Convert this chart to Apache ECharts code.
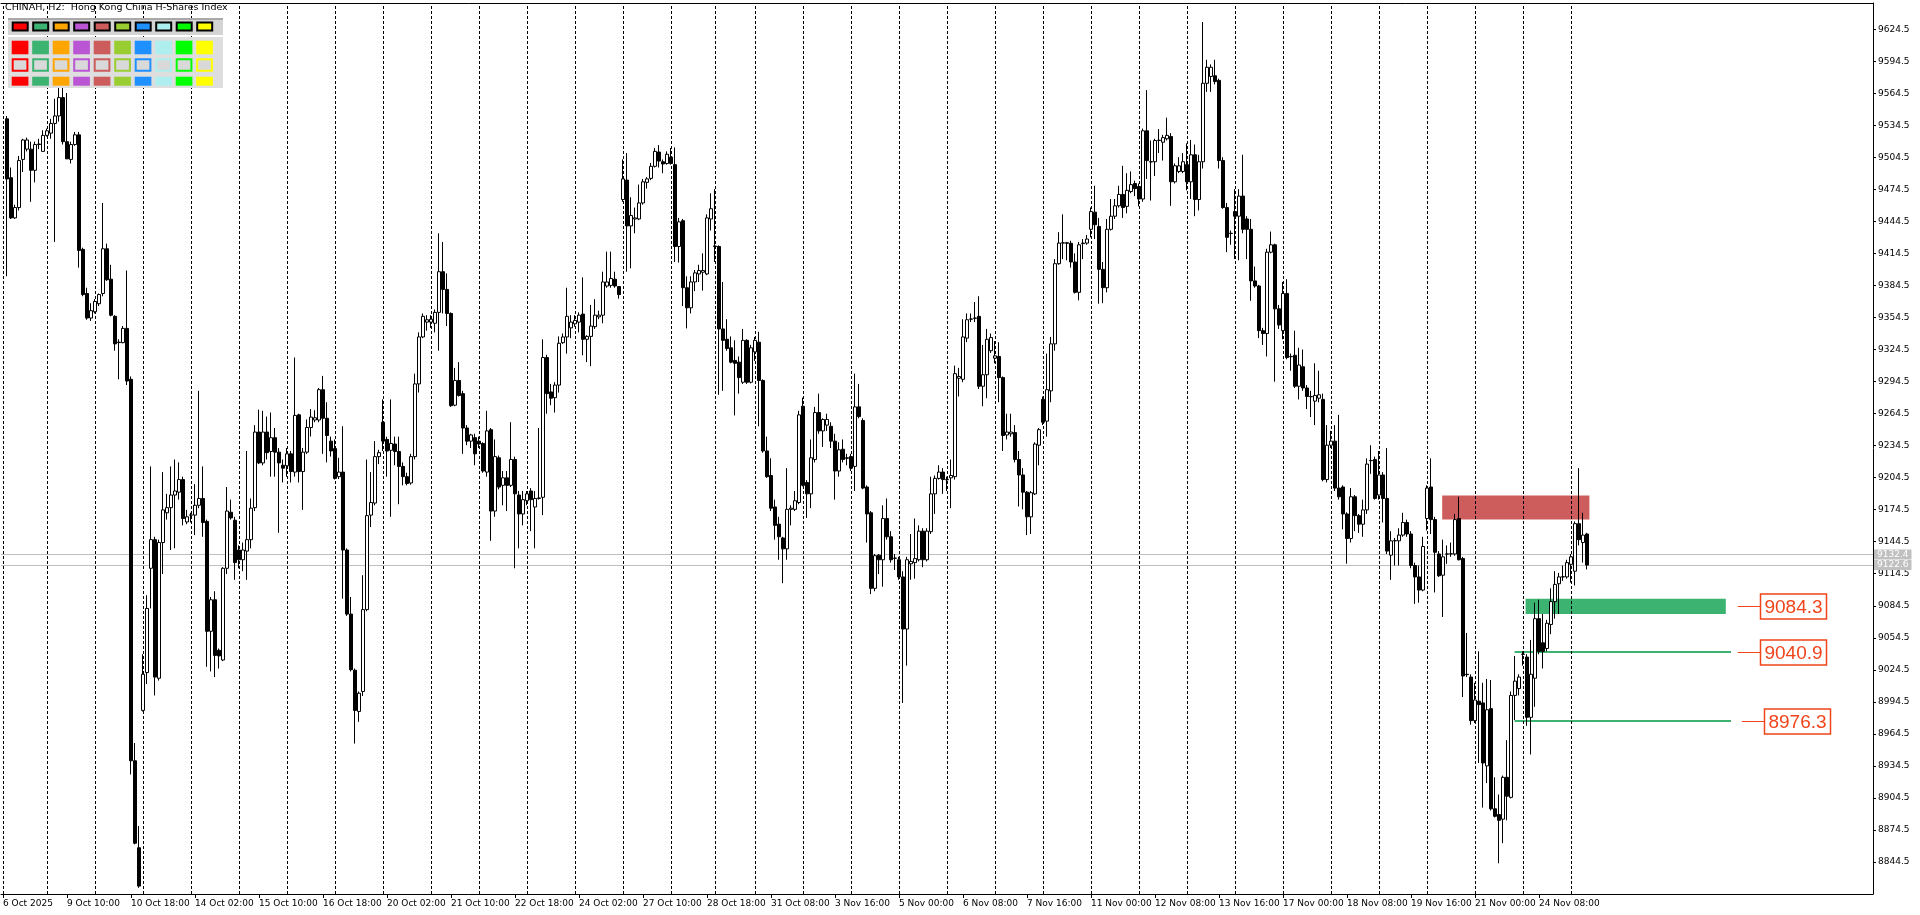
<!DOCTYPE html>
<html><head><meta charset="utf-8">
<script src="https://cdn.jsdelivr.net/npm/echarts@6/dist/echarts.min.js"></script>
<style>html,body{margin:0;padding:0;background:#fff;}#c{width:1920px;height:915px;}</style>
</head><body><div id="c"></div>
<script>
// ---- data (bars 1..396; bar 0 is empty) ----
const timeLabels = ["6 Oct 2025","9 Oct 10:00","10 Oct 18:00","14 Oct 02:00","15 Oct 10:00","16 Oct 18:00","20 Oct 02:00","21 Oct 10:00","22 Oct 18:00","24 Oct 02:00","27 Oct 10:00","28 Oct 18:00","31 Oct 08:00","3 Nov 16:00","5 Nov 00:00","6 Nov 08:00","7 Nov 16:00","11 Nov 00:00","12 Nov 08:00","13 Nov 16:00","17 Nov 00:00","18 Nov 08:00","19 Nov 16:00","21 Nov 00:00","24 Nov 08:00"];
const barsPerLabel = 16;
const totalSlots = 468;
const daySeparators = [0,11,23,35,47,59,71,83,95,107,119,131,143,155,167,178,188,200,212,224,236,248,260,272,284,296,308,320,332,344,356,368,380,392];

const opens = [
9540.6,9485.4,9447.8,9457.5,9502.6,9512.2,9512.2,9492.4,9516.5,9510.1,
9525.1,9527.2,9536.3,9543.3,9560.5,9519.2,9502.6,9516.5,9525.6,9418.3,
9377.0,9354.0,9359.9,9367.4,9377.0,9418.9,9390.4,9355.6,9331.4,9330.9,
9344.3,9296.6,8939.3,8857.8,8986.5,9021.9,9119.6,9146.4,9016.6,9143.7,
9171.6,9176.4,9188.2,9190.9,9202.7,9163.0,9169.4,9169.4,9178.6,9185.0,
9163.5,9060.6,9090.1,9042.8,9033.7,9119.6,9172.1,9164.6,9136.7,9127.6,
9135.7,9146.4,9176.4,9247.2,9218.3,9247.2,9229.0,9241.9,9228.4,9216.1,
9215.6,9226.8,9209.7,9263.3,9210.2,9228.4,9251.5,9258.5,9258.5,9286.9,
9260.1,9238.7,9231.7,9205.4,9209.7,9136.7,9076.7,9024.1,8985.5,9004.2,
9080.9,9169.4,9180.7,9224.2,9256.4,9240.3,9230.1,9236.0,9229.0,9215.0,
9205.4,9199.5,9224.2,9292.3,9336.3,9350.2,9350.2,9349.1,9359.3,9397.4,
9380.8,9358.3,9272.4,9295.5,9283.2,9251.0,9238.7,9241.9,9238.7,9236.5,
9209.7,9249.4,9173.2,9223.1,9197.3,9204.3,9197.3,9221.5,9188.2,9170.5,9182.9,
9192.0,9177.0,9185.0,9186.1,9317.0,9284.8,9279.4,9291.2,9330.9,
9336.3,9344.8,9348.6,9350.2,9357.7,9334.1,9336.8,9345.9,9355.1,9356.7,
9384.0,9384.6,9390.4,9383.5,9465.0,9483.2,9440.3,9446.8,9446.8,9461.8,
9481.1,9484.8,9496.1,9509.5,9500.4,9498.8,9504.7,9497.7,9421.0,9445.2,
9382.4,9363.6,9387.8,9395.3,9396.9,9395.3,9446.8,9421.5,9421.0,9343.8,
9334.1,9326.1,9314.3,9312.7,9293.9,9333.1,9293.9,9322.3,9331.4,9295.5,
9229.5,9206.5,9177.0,9160.9,9148.0,9137.8,9174.8,9174.8,9181.2,9271.4,
9200.0,9189.3,9221.5,9265.5,9248.3,9253.7,9252.6,9238.7,9210.7,9231.1,
9223.1,9224.2,9215.0,9270.8,9258.0,9195.7,9171.6,9100.8,9131.9,9127.6,
9166.2,9149.1,9129.2,9127.6,9111.5,9062.7,9123.8,9124.9,9127.6,9154.4,
9127.6,9153.9,9189.3,9203.8,9209.7,9202.7,9204.3,9205.4,9297.6,9296.6,
9335.2,9352.9,9354.0,9355.6,9290.1,9300.9,9323.4,9316.4,9318.0,9298.2,
9244.5,9245.6,9246.7,9221.5,9207.0,9190.9,9167.8,9189.3,9234.9,9277.8,
9257.4,9285.8,9329.8,9404.9,9424.2,9424.5,9424.0,9406.5,9378.1,9423.7,
9424.2,9437.1,9453.2,9439.8,9399.6,9382.4,9437.1,9449.4,9459.1,9469.8,
9458.6,9472.5,9480.0,9477.3,9465.5,9529.4,9500.4,9500.4,9520.3,9518.7,
9521.9,9524.0,9481.6,9491.3,9491.3,9497.7,9481.6,9506.9,9465.0,9500.4,
9573.9,9580.3,9580.9,9576.6,9501.5,9457.5,9433.4,9453.7,9449.4,9468.2,
9446.8,9437.1,9388.8,9384.0,9342.2,9339.5,9415.7,9422.6,9362.6,9342.2,
9377.0,9318.0,9319.1,9290.1,9308.4,9288.5,9280.5,9276.2,9278.9,9277.8,
9202.7,9234.9,9238.7,9194.7,9195.7,9170.5,9147.5,9186.6,9168.9,9160.9,
9174.3,9220.4,9221.5,9188.2,9207.0,9185.0,9131.9,9145.3,9145.3,9150.7,
9162.5,9151.7,9122.2,9111.5,9099.2,9166.2,9195.7,9165.2,9133.0,9113.1,
9132.9,9133.0,9133.0,9166.2,9128.7,9020.3,9017.7,8976.9,8995.1,8993.5,
8934.5,8988.1,8894.3,8888.9,8884.6,8923.8,8905.0,9000.5,9006.9,9039.1,
9036.4,8980.0,9016.6,9072.4,9049.8,9044.5,9067.0,9088.4,9105.1,9111.5,
9111.5,9123.3,9116.9,9161.4,9143.7,9151.7];

const highs = [
9543.3,9495.0,9460.2,9505.8,9521.9,9523.0,9519.2,9519.2,9521.9,9529.9,
9531.5,9540.6,9559.4,9575.5,9575.5,9564.8,9519.2,9528.3,9528.3,9419.9,
9382.4,9367.9,9371.7,9377.0,9461.8,9423.7,9403.9,9356.7,9334.1,9346.5,
9398.5,9299.3,8956.0,8878.2,9039.1,9094.4,9215.0,9149.1,9146.4,9209.7,
9189.3,9215.0,9221.5,9218.8,9205.4,9174.3,9171.6,9198.4,9285.8,9215.0,
9165.2,9092.7,9098.1,9044.5,9120.6,9195.7,9183.9,9167.8,9141.0,9143.7,
9229.5,9185.0,9253.7,9268.2,9267.1,9261.7,9265.5,9251.0,9232.2,9221.5,
9232.2,9229.5,9317.0,9264.4,9232.2,9259.0,9268.7,9267.6,9288.5,9299.8,
9275.1,9242.9,9240.3,9223.1,9252.6,9138.3,9092.7,9025.7,9004.2,9113.1,
9221.5,9209.7,9238.7,9230.6,9277.8,9242.9,9277.8,9242.9,9242.9,9218.8,
9209.1,9226.8,9301.9,9340.6,9358.3,9356.7,9356.7,9362.0,9433.4,9425.3,
9395.8,9359.3,9307.3,9312.7,9285.8,9253.7,9245.6,9245.6,9242.9,9237.6,
9267.1,9251.0,9240.3,9225.2,9210.7,9210.7,9256.4,9224.2,9192.0,9192.0,9192.0,
9194.7,9192.0,9251.0,9334.1,9319.6,9292.3,9293.9,9336.8,9339.5,
9382.4,9356.7,9356.7,9359.3,9392.1,9337.9,9366.3,9371.7,9360.9,9397.4,
9416.2,9416.2,9397.4,9384.0,9502.6,9508.5,9467.1,9457.5,9479.0,9484.3,
9485.9,9499.3,9513.3,9516.0,9502.6,9510.1,9513.3,9513.8,9447.8,9446.8,
9393.1,9393.1,9399.0,9403.9,9414.6,9451.1,9470.9,9474.7,9422.1,9387.8,
9352.9,9336.8,9333.1,9318.0,9343.8,9334.1,9328.8,9336.3,9341.1,9296.6,
9242.9,9222.6,9183.9,9167.8,9149.1,9213.4,9178.6,9192.0,9267.1,9279.4,
9202.2,9240.3,9270.8,9283.2,9260.1,9264.4,9256.4,9245.6,9237.6,9240.3,
9226.8,9226.8,9301.9,9292.3,9260.1,9197.3,9173.2,9133.0,9133.0,9178.6,
9185.0,9154.4,9133.0,9130.3,9116.9,9130.3,9151.7,9166.2,9159.8,9157.1,
9157.1,9205.4,9206.5,9216.1,9213.4,9205.4,9221.5,9309.4,9307.3,9352.9,
9358.3,9358.3,9369.0,9374.4,9328.8,9343.8,9339.5,9332.5,9331.4,9299.3,
9264.4,9264.4,9253.7,9229.5,9213.4,9192.0,9192.0,9237.6,9251.0,9280.5,
9320.7,9336.3,9409.2,9434.4,9451.1,9425.3,9426.4,9414.6,9425.3,9428.0,
9431.8,9457.5,9477.9,9447.8,9406.5,9446.8,9465.5,9465.5,9477.9,9496.6,
9489.7,9491.3,9482.7,9480.0,9531.5,9567.5,9520.3,9521.9,9531.0,9525.6,
9541.7,9527.2,9498.8,9504.7,9508.5,9517.6,9520.8,9516.5,9506.9,9631.3,
9595.9,9591.6,9595.9,9578.2,9504.7,9461.8,9436.0,9474.7,9474.7,9506.9,
9449.4,9446.8,9402.2,9385.1,9344.8,9418.9,9435.0,9423.7,9366.3,9387.8,
9390.4,9320.7,9342.2,9326.1,9324.5,9291.2,9285.8,9311.6,9304.6,9283.2,
9253.7,9248.3,9253.7,9263.3,9197.3,9172.1,9194.7,9188.2,9170.5,9183.9,
9222.6,9234.9,9224.2,9229.5,9209.7,9232.2,9154.4,9148.0,9157.1,9171.6,
9165.2,9154.4,9124.9,9122.2,9149.1,9197.3,9222.6,9167.8,9135.7,9146.4,
9141.0,9143.7,9170.5,9186.6,9130.3,9059.0,9020.3,9012.3,9041.8,9012.3,
9016.0,9014.9,8923.8,8907.7,8925.4,8958.6,9004.2,9037.5,9020.3,9041.8,
9039.1,9052.5,9087.4,9090.1,9076.7,9071.3,9100.8,9116.9,9115.3,9122.2,
9127.6,9133.0,9163.5,9213.4,9171.6,9152.8];

const lows = [
9393.1,9446.8,9446.8,9454.8,9490.8,9510.1,9462.9,9481.1,9512.2,9510.0,
9524.0,9521.9,9425.3,9538.0,9516.5,9503.0,9498.8,9515.4,9401.2,9374.4,
9352.4,9351.3,9358.3,9365.2,9374.4,9388.8,9355.6,9323.4,9296.6,9330.4,
9291.2,8926.5,8861.0,8820.3,8985.5,9011.2,9082.0,9000.5,9014.4,9114.2,
9165.2,9136.7,9138.3,9183.9,9159.8,9160.9,9162.5,9150.7,9175.9,9149.1,
9027.3,9023.0,9017.7,9025.7,9032.7,9114.2,9165.2,9108.8,9119.6,9116.9,
9108.8,9138.3,9173.2,9217.2,9216.1,9221.5,9205.4,9205.4,9152.8,9200.0,
9205.4,9200.0,9205.4,9200.0,9174.3,9226.8,9243.0,9256.4,9256.4,9226.8,
9218.8,9224.2,9202.7,9203.2,9091.1,9075.0,9023.0,8955.4,8975.8,9000.0,
9079.3,9158.2,9178.6,9217.2,9229.5,9205.4,9167.8,9216.1,9179.6,9197.3,
9197.3,9197.9,9221.5,9284.2,9335.2,9342.2,9344.8,9340.6,9323.4,9358.3,
9346.5,9270.8,9271.4,9280.5,9226.8,9234.9,9232.2,9216.1,9232.2,9209.1,
9205.4,9145.3,9167.8,9193.6,9178.6,9173.2,9195.7,9119.6,9138.3,9159.8,9178.6,
9154.4,9138.3,9183.9,9169.4,9264.4,9272.4,9265.5,9284.2,9329.8,
9320.7,9335.2,9345.9,9340.6,9319.1,9312.7,9308.9,9343.8,9352.9,9349.1,
9382.4,9382.4,9382.4,9372.2,9462.9,9397.4,9400.6,9433.4,9445.7,9460.2,
9475.2,9483.2,9495.0,9495.0,9489.7,9497.7,9497.7,9406.5,9406.0,9365.2,
9344.3,9358.3,9379.2,9387.8,9379.7,9394.2,9436.0,9406.5,9282.1,9285.8,
9323.4,9311.6,9262.8,9283.2,9292.3,9292.3,9292.8,9313.8,9252.6,9227.9,
9204.3,9173.2,9146.4,9127.6,9105.6,9127.6,9159.8,9173.2,9179.6,9196.3,
9166.8,9175.9,9218.8,9245.6,9233.3,9248.3,9232.2,9183.9,9205.4,9218.8,
9216.1,9210.7,9192.0,9260.1,9193.6,9143.7,9095.4,9098.1,9114.2,9102.4,
9146.4,9124.9,9118.0,9108.8,8993.5,9028.4,9108.8,9109.9,9126.0,9120.6,
9126.0,9151.7,9170.5,9202.7,9189.3,9192.0,9175.9,9202.7,9280.5,9293.9,
9331.4,9350.2,9350.2,9287.5,9271.4,9278.9,9321.3,9311.6,9275.1,9229.5,
9240.3,9242.9,9218.8,9177.5,9174.8,9150.7,9151.7,9188.2,9216.1,9253.7,
9242.9,9275.1,9323.4,9403.9,9409.2,9408.1,9401.2,9377.0,9370.6,9409.2,
9422.6,9429.6,9428.0,9367.4,9367.9,9378.1,9436.0,9446.8,9457.5,9447.8,
9452.1,9470.9,9468.2,9458.6,9462.9,9484.3,9464.0,9487.0,9508.5,9501.5,
9520.3,9459.1,9480.0,9489.7,9489.7,9473.6,9465.5,9449.4,9454.8,9494.0,
9565.9,9565.9,9572.8,9494.0,9456.4,9415.7,9422.6,9409.2,9408.1,9433.4,
9409.2,9370.1,9382.4,9335.2,9328.8,9318.0,9414.6,9294.4,9343.8,9334.1,
9315.4,9304.6,9288.5,9277.8,9285.8,9268.7,9261.2,9253.7,9275.1,9201.1,
9200.0,9232.2,9192.0,9183.9,9156.1,9123.9,9143.7,9154.4,9152.8,9149.1,
9170.5,9208.1,9183.9,9183.9,9162.5,9133.0,9108.8,9122.2,9122.2,9149.1,
9149.1,9119.6,9086.3,9087.4,9098.1,9155.0,9151.7,9097.0,9111.5,9074.0,
9123.8,9130.3,9131.4,9127.0,8998.9,9017.7,8973.1,8974.7,8937.2,8895.4,
8918.4,8892.7,8886.2,8843.3,8862.1,8883.5,8904.0,8977.4,9000.5,9028.4,
8972.0,8945.2,8989.8,9039.1,9025.7,9041.8,9057.9,9072.4,9076.7,9107.8,
9109.9,9106.2,9103.5,9141.0,9124.9,9118.5];

const closes = [
9484.3,9447.8,9457.5,9501.5,9520.8,9520.8,9492.4,9516.5,9517.0,9525.1,
9529.4,9536.3,9543.3,9560.5,9519.2,9503.1,9516.5,9525.6,9417.3,9376.0,
9354.0,9360.9,9369.5,9376.0,9418.9,9389.9,9356.7,9329.8,9331.0,9344.3,
9295.0,8939.3,8862.1,8821.9,9020.3,9082.0,9146.4,9017.7,9143.7,9174.3,
9176.4,9188.2,9192.0,9202.7,9166.2,9167.8,9169.5,9178.6,9185.0,9162.5,
9060.6,9090.1,9038.0,9037.5,9119.6,9173.2,9166.8,9124.9,9127.6,9136.7,
9146.4,9175.9,9247.2,9218.3,9247.2,9227.9,9241.9,9228.4,9218.3,9213.4,
9226.8,9210.2,9262.8,9210.2,9228.4,9251.5,9261.2,9260.6,9286.9,9260.1,
9244.0,9229.5,9203.8,9209.7,9136.7,9076.7,9024.6,8986.5,9002.6,9080.9,
9168.9,9181.2,9224.2,9227.9,9238.7,9229.5,9236.5,9229.0,9215.0,9205.4,
9199.0,9224.2,9292.3,9336.3,9355.6,9352.4,9352.9,9359.3,9397.4,9380.8,
9358.3,9271.9,9295.5,9281.5,9251.0,9238.7,9244.5,9226.8,9236.0,9210.7,
9248.3,9173.2,9224.2,9195.7,9204.3,9197.3,9221.5,9189.3,9170.5,9183.9,9189.3,
9183.9,9185.0,9185.5,9317.0,9283.2,9278.9,9291.2,9330.4,9336.3,
9355.6,9350.2,9351.8,9356.7,9334.1,9336.8,9346.5,9356.7,9356.7,9387.8,
9387.8,9391.0,9384.0,9376.0,9484.3,9440.3,9450.0,9447.8,9461.8,9481.6,
9484.3,9496.1,9510.1,9501.0,9498.3,9507.4,9498.8,9421.0,9444.1,9382.4,
9363.6,9387.8,9396.3,9398.5,9398.5,9447.8,9456.4,9421.0,9343.8,9333.1,
9325.5,9312.7,9311.6,9298.2,9333.1,9293.9,9326.1,9333.1,9295.5,9229.5,
9205.4,9175.9,9159.8,9149.1,9137.8,9174.8,9175.9,9182.9,9263.3,9197.3,
9189.3,9223.1,9265.5,9248.3,9259.0,9259.0,9238.7,9210.7,9230.6,9221.5,
9222.6,9213.4,9270.8,9261.7,9194.7,9170.5,9100.8,9131.4,9127.6,9166.2,
9149.1,9127.6,9129.0,9111.5,9062.7,9127.6,9126.0,9128.7,9154.4,9127.6,
9154.4,9189.3,9203.8,9209.7,9202.7,9202.5,9206.5,9301.9,9299.3,9336.3,
9352.4,9353.1,9353.8,9290.1,9300.9,9334.1,9335.7,9318.6,9298.2,9244.0,
9247.2,9247.2,9221.5,9207.0,9190.9,9167.8,9190.4,9236.0,9249.4,9256.4,
9286.9,9329.8,9404.9,9424.2,9424.5,9424.0,9406.5,9378.1,9422.6,9424.2,
9428.0,9453.7,9441.4,9399.6,9382.4,9437.1,9449.4,9459.1,9469.8,9457.5,
9473.6,9479.0,9475.2,9465.5,9529.4,9501.5,9500.2,9520.3,9520.6,9523.0,
9525.1,9481.6,9496.6,9496.6,9500.4,9481.6,9506.9,9465.0,9500.4,9573.9,
9588.9,9588.9,9575.5,9501.5,9457.5,9429.6,9433.2,9449.4,9468.2,9437.1,
9437.1,9388.8,9384.0,9342.2,9339.5,9415.7,9422.6,9362.6,9347.5,9377.0,
9317.0,9317.8,9290.1,9310.0,9288.5,9280.5,9280.3,9281.5,9282.1,9202.7,
9234.9,9238.7,9194.7,9186.6,9170.5,9147.5,9186.6,9168.9,9160.9,9174.3,
9217.2,9220.6,9185.0,9207.0,9185.0,9135.7,9145.3,9145.5,9150.7,9162.5,
9151.7,9122.2,9111.5,9099.2,9140.0,9194.7,9165.2,9134.6,9112.6,9130.3,
9133.0,9133.2,9165.2,9127.6,9018.7,9020.0,8976.9,8996.2,8991.9,8937.2,
8987.1,8894.3,8887.3,8883.5,8923.8,8906.1,9000.5,9013.9,9017.7,9039.0,
8980.0,9020.3,9072.4,9041.8,9041.8,9068.1,9088.4,9104.5,9111.5,9111.7,
9124.9,9130.3,9161.4,9146.4,9150.7,9122.6];

const bidAsk = [9132.4, 9122.6];
const resistanceZone = [359.8, 396.6, 9165.2, 9187.7];   // from bar, to bar, low, high
const supportZone = [380.65, 430.7, 9076.7, 9091.1];
const supportLines = [9040.9, 8976.3];
const supportLineBars = [377.9, 432];
const levelLabels = [9084.3, 9040.9, 8976.3];
const swatchColors = ['#FF0000','#3CB371','#FFA500','#BA55D3','#CD5C5C','#9ACD32','#1E90FF','#AFEEEE','#00FF00','#FFFF00'];
const titleText = 'CHINAH, H2:  Hong Kong China H-Shares Index';

// ---- build ----
const FONT = 'DejaVu Sans';
const LABEL_RED = '#F0441A';
const categories = Array.from({length: totalSlots}, (_, i) => String(i));
const candleData = [ '-' ];
for (let i = 0; i < opens.length; i++) candleData.push([opens[i], closes[i], lows[i], highs[i]]);
const isLabelIdx = i => i % barsPerLabel === 0 && (i / barsPerLabel) < timeLabels.length;

const annotations = [
  {kind:'zone', from:resistanceZone[0], to:resistanceZone[1], low:resistanceZone[2], high:resistanceZone[3], color:'#CD5C5C'},
  {kind:'zone', from:supportZone[0], to:supportZone[1], low:supportZone[2], high:supportZone[3], color:'#3CB371'},
  ...supportLines.map(p => ({kind:'line', from:supportLineBars[0], to:supportLineBars[1], price:p, color:'#3CB371'})),
  ...levelLabels.map((p, k) => ({kind:'label', price:p, lineFrom: k < 2 ? 433.7 : 434.7, boxFrom: k < 2 ? 439.25 : 440.25, boxBars: 16.6}))
];

function renderAnnot(params, api) {
  const a = annotations[params.dataIndex];
  const bw = api.size([1, 0])[0];
  const x0 = api.coord([0, 9000])[0];
  const xp = b => x0 + b * bw;
  const yp = p => api.coord([0, p])[1];
  if (a.kind === 'zone') {
    const yt = yp(a.high), yb = yp(a.low);
    return {type:'rect', shape:{x:xp(a.from), y:yt, width:xp(a.to)-xp(a.from), height:yb-yt}, style:{fill:a.color}};
  }
  if (a.kind === 'line') {
    const y = Math.round(yp(a.price));
    return {type:'line', shape:{x1:xp(a.from), y1:y, x2:xp(a.to), y2:y}, style:{stroke:a.color, lineWidth:2}};
  }
  const y = Math.round(yp(a.price)) + 0.5;
  const bx = Math.round(xp(a.boxFrom)) + 0.5, w = Math.round(a.boxBars * bw);
  return {type:'group', children:[
    {type:'line', shape:{x1:xp(a.lineFrom), y1:y, x2:bx, y2:y}, style:{stroke:LABEL_RED, lineWidth:1}},
    {type:'rect', shape:{x:bx, y:y-12.5, width:w, height:25}, style:{fill:'#fff', stroke:LABEL_RED, lineWidth:1.5}},
    {type:'text', style:{text:a.price.toFixed(1), x:bx + w/2, y:y + 1, align:'center', verticalAlign:'middle', fill:LABEL_RED, font:'19px "Liberation Sans"'}}
  ]};
}

const graphics = [
  {type:'text', left:5, top:3, z:100, style:{text:titleText, fill:'#000', font:'9.5px "' + FONT + '"'}},
  {type:'rect', z:100, shape:{x:8, y:18, width:215, height:17}, style:{fill:'#d4d4d4'}},
  {type:'rect', z:100, shape:{x:8, y:18, width:215, height:2}, style:{fill:'#a8a8a8'}},
  {type:'rect', z:100, shape:{x:8, y:37, width:215, height:51}, style:{fill:'#dedede'}}
];
swatchColors.forEach((c, k) => {
  const x = 11.7 + 20.5 * k;
  graphics.push({type:'rect', z:101, shape:{x:x+1, y:22.5, width:15, height:8}, style:{fill:c, stroke:'#000', lineWidth:2}});
  graphics.push({type:'rect', z:101, shape:{x:x, y:40.7, width:16.7, height:13.6}, style:{fill:c}});
  graphics.push({type:'rect', z:101, shape:{x:x+1, y:59.3, width:14.7, height:11.4}, style:{fill:'#d9d9d9', stroke:c, lineWidth:2}});
  graphics.push({type:'rect', z:101, shape:{x:x, y:76.7, width:16.7, height:9}, style:{fill:c}});
});

const markData = [
  ...daySeparators.map(i => ({xAxis: i, lineStyle:{color:'#000', type:[3,2], width:1}, label:{show:false}})),
  ...bidAsk.map(v => ({yAxis: v, lineStyle:{color:'#c0c0c0', type:'solid', width:1},
     label:{show:true, position:'end', distance:1, formatter: v.toFixed(1), color:'#fff', backgroundColor:'#c0c0c0',
            fontSize:9, fontFamily:FONT, padding:[1,3,0,3]}}))
];

const chart = echarts.init(document.getElementById('c'), null, {renderer:'canvas'});
chart.setOption({
  animation: false,
  backgroundColor: '#fff',
  grid: {left: 1, right: 47, top: 3, bottom: 21},
  xAxis: [{
    type:'category', data: categories, boundaryGap: true,
    axisLine:{show:true, lineStyle:{color:'#000', width:1}},
    axisTick:{show:true, interval:(i) => isLabelIdx(i), alignWithLabel:true, length:4, lineStyle:{color:'#000'}},
    axisLabel:{show:true, interval:(i) => isLabelIdx(i), formatter:(v, i) => timeLabels[Number(v)/barsPerLabel] || '',
               align:'left', margin:5, fontSize:9, fontFamily:FONT, color:'#000'},
    splitLine:{show:false}
  },{
    type:'category', data: categories, position:'top', boundaryGap:true,
    axisLine:{show:true, lineStyle:{color:'#000', width:1}}, axisTick:{show:false}, axisLabel:{show:false}, splitLine:{show:false}
  }],
  yAxis: {
    type:'value', position:'right', min: 8814.5, max: 9649.1, interval: 30, scale: true,
    axisLine:{show:true, lineStyle:{color:'#000', width:1}},
    axisTick:{show:true, length:3, lineStyle:{color:'#000'}},
    axisLabel:{show:true, showMinLabel:false, showMaxLabel:false, formatter:(v) => v.toFixed(1), margin:5, fontSize:9, fontFamily:FONT, color:'#000'},
    splitLine:{show:false}
  },
  graphic: graphics,
  series: [
    {type:'custom', z:1, renderItem: renderAnnot, data: annotations.map((a, i) => [i, 9000]), encode:{x:0, y:1}, clip:false, silent:true},
    {type:'candlestick', z:3, data: candleData, barWidth: 3,
     itemStyle:{color:'#fff', color0:'#000', borderColor:'#000', borderColor0:'#000', borderColorDoji:'#000', borderWidth:1},
     markLine:{silent:true, symbol:['none','none'], animation:false, z:2, data: markData}
    }
  ]
});
</script>
</body></html>
